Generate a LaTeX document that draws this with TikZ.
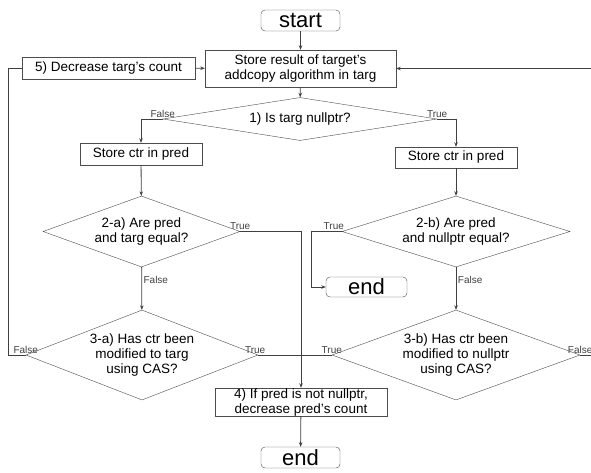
\documentclass[tikz,border=0pt]{standalone}
\usepackage{fontspec}
\setmainfont{Liberation Sans}
\usepackage{tikz}
\usetikzlibrary{arrows.meta, shapes.geometric, positioning, calc}
\tikzset{
  box/.style={rectangle, draw=black!70, fill=white, inner sep=0pt,
              font=\fontsize{13.5}{15}\selectfont, align=center},
  term/.style={box, rounded corners=4pt, font=\fontsize{22}{22}\selectfont},
  cond/.style={diamond, draw=black!70, fill=white, inner sep=0pt,
               font=\fontsize{13.5}{15}\selectfont, align=center},
  lbl/.style={font=\fontsize{10}{10}\selectfont, inner sep=1.5pt},
  arc/.style={-{Stealth[length=4.5pt, width=3.5pt]}, black!75, line width=0.8pt},
  ln/.style={black!75, line width=0.8pt}
}
\begin{document}
\begin{tikzpicture}[x=1pt, y=-1pt]
  \useasboundingbox (0,0) rectangle (591,472);
  % boxes
  \node[term, minimum width=79pt, minimum height=21pt] (start) at (300.5,20.5) {start};
  \node[box, minimum width=191pt, minimum height=37pt] (store) at (300.5,68.5)
    {Store result of target's\\addcopy algorithm in targ};
  \node[box, minimum width=173pt, minimum height=22pt] (dec) at (108.5,68)
    {5) Decrease targ's count};
  \node[cond, aspect=6.37, minimum width=274pt, minimum height=43pt] (q1) at (300,119)
    {1) Is targ nullptr?};
  \node[box, minimum width=122pt, minimum height=22pt] (ctrL) at (141,154) {Store ctr in pred};
  \node[box, minimum width=122pt, minimum height=21pt] (ctrR) at (456,157.5) {Store ctr in pred};
  \node[cond, aspect=2.77, minimum width=197pt, minimum height=71pt] (q2a) at (141.5,231.5)
    {2-a) Are pred\\and targ equal?};
  \node[cond, aspect=3.21, minimum width=228pt, minimum height=71pt] (q2b) at (456,231.5)
    {2-b) Are pred\\and nullptr equal?};
  \node[term, minimum width=81pt, minimum height=20pt] (endR) at (366.5,287) {end};
  \node[cond, aspect=2.58, minimum width=232pt, minimum height=90pt] (q3a) at (142,355)
    {3-a) Has ctr been\\modified to targ\\using CAS?};
  \node[cond, aspect=2.76, minimum width=248pt, minimum height=90pt] (q3b) at (456,355)
    {3-b) Has ctr been\\modified to nullptr\\using CAS?};
  \node[box, minimum width=172pt, minimum height=28pt] (upd) at (301,402)
    {4) If pred is not nullptr,\\decrease pred's count};
  \node[term, minimum width=79pt, minimum height=21pt] (endB) at (300.5,457.5) {end};
  \coordinate (join) at (upd.north |- q3a.east);
  \coordinate (backL) at (8,0);
  \coordinate (backR) at (595,0);
  % connectors
  \draw[arc] (start) -- (store);
  \draw[arc] (store) -- (q1);
  \draw[arc] (q1.west) node[lbl, above] {False} -| (ctrL.north);
  \draw[arc] (q1.east) node[lbl, above] {True} -| (ctrR.north);
  \draw[arc] (ctrL) -- (q2a);
  \draw[arc] (ctrR) -- (q2b);
  \draw[arc] (q2a.east) node[lbl, above] {True} -| (upd.north);
  \draw[arc] (q2a) -- node[lbl, right, pos=0.3] {False} (q3a);
  \draw[arc] (q2b.west) node[lbl, above, xshift=-8pt] {True} -- ++(-30,0) |- (endR.west);
  \draw[arc] (q2b) -- node[lbl, right, pos=0.3] {False} (q3b);
  \draw[ln] (q3a.east) node[lbl, above, xshift=-3pt] {True} -- (join);
  \draw[ln] (q3b.west) node[lbl, above] {True} -- (join);
  \draw[ln] (q3a.west) node[lbl, above] {False} -- (backL |- q3a.west) |- (dec.west);
  \draw[arc] (dec) -- (store);
  \draw[arc] (q3b.east) node[lbl, above] {False} -- (backR |- q3b.east) |- (store.east);
  \draw[arc] (upd) -- (endB);
\end{tikzpicture}
\end{document}
